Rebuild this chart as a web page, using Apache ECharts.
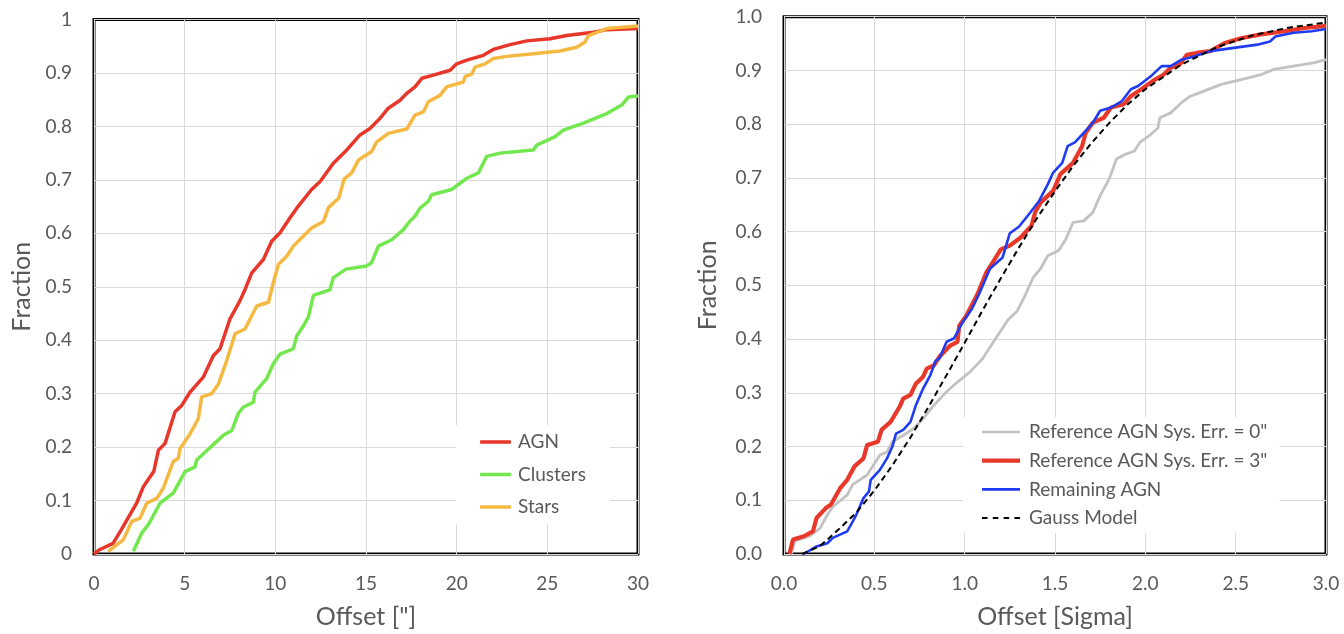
<!DOCTYPE html>
<html>
<head>
<meta charset="utf-8">
<script src="https://cdn.jsdelivr.net/npm/echarts@6/dist/echarts.min.js"></script>
<style>
  html, body { margin: 0; padding: 0; background: #fff; }
  #chart { width: 1344px; height: 634px; }
</style>
</head>
<body>
<div id="chart"></div>
<script>
// Cumulative offset distributions, [offset, fraction] pairs.
const agn = [[0,0],[0.3,0.008],[1.05,0.02],[1.5,0.045],[2.35,0.095],[2.72,0.126],[3.3,0.155],[3.55,0.194],[3.92,0.207],[4.47,0.266],[4.84,0.278],[5.3,0.303],[6.03,0.331],[6.58,0.371],[6.95,0.384],[7.5,0.44],[8.05,0.474],[8.33,0.495],[8.7,0.526],[9.34,0.551],[9.8,0.585],[10.26,0.601],[10.81,0.629],[11.18,0.647],[12.0,0.682],[12.47,0.697],[13.2,0.731],[13.94,0.756],[14.67,0.784],[15.22,0.796],[15.77,0.815],[16.23,0.834],[16.88,0.849],[17.25,0.862],[17.7,0.874],[18.08,0.89],[18.71,0.896],[19.64,0.905],[20.0,0.917],[20.56,0.924],[21.47,0.933],[22.02,0.944],[22.95,0.953],[23.87,0.96],[25.15,0.964],[26.07,0.97],[27.54,0.976],[28.28,0.981],[30,0.983]];
const clusters = [[2.17,0.005],[2.63,0.039],[3.0,0.055],[3.64,0.095],[4.37,0.114],[5.02,0.154],[5.57,0.163],[5.66,0.176],[7.13,0.222],[7.6,0.231],[7.96,0.263],[8.24,0.275],[8.79,0.284],[8.88,0.303],[9.52,0.328],[9.89,0.356],[10.26,0.374],[10.99,0.384],[11.18,0.408],[11.55,0.427],[11.82,0.443],[12.1,0.484],[13.0,0.494],[13.2,0.517],[13.9,0.533],[15.04,0.539],[15.31,0.545],[15.68,0.576],[16.42,0.588],[17.06,0.607],[17.43,0.623],[17.7,0.632],[17.98,0.647],[18.44,0.66],[18.62,0.672],[19.73,0.682],[20.56,0.703],[21.2,0.713],[21.66,0.744],[22.39,0.75],[24.23,0.756],[24.42,0.765],[25.43,0.781],[25.88,0.793],[26.99,0.806],[28.28,0.824],[29.1,0.84],[29.47,0.855],[30,0.857]];
const stars = [[0.79,0.005],[1.62,0.027],[2.08,0.061],[2.54,0.067],[2.9,0.095],[3.46,0.104],[3.82,0.123],[4.37,0.173],[4.65,0.179],[4.74,0.197],[5.3,0.225],[5.75,0.253],[5.94,0.294],[6.49,0.3],[6.86,0.318],[7.32,0.362],[7.78,0.412],[8.33,0.421],[8.97,0.464],[9.62,0.471],[9.89,0.508],[10.17,0.542],[10.63,0.557],[10.99,0.576],[11.55,0.595],[12.0,0.61],[12.65,0.622],[12.93,0.648],[13.5,0.666],[13.8,0.702],[14.21,0.713],[14.58,0.737],[15.31,0.753],[15.59,0.771],[16.23,0.787],[17.25,0.795],[17.7,0.821],[18.16,0.827],[18.44,0.846],[19.08,0.858],[19.45,0.874],[20.37,0.883],[20.46,0.893],[20.83,0.898],[21.02,0.911],[21.57,0.917],[22.02,0.927],[22.76,0.931],[24.23,0.936],[25.7,0.941],[26.62,0.948],[27.08,0.958],[27.27,0.97],[27.73,0.976],[28.28,0.983],[30,0.988]];

// Offsets in units of sigma.
const refSys0 = [[0.04,0],[0.06,0.024],[0.14,0.033],[0.2,0.048],[0.24,0.073],[0.27,0.088],[0.35,0.11],[0.38,0.129],[0.46,0.147],[0.49,0.163],[0.53,0.184],[0.57,0.19],[0.6,0.209],[0.66,0.221],[0.72,0.234],[0.77,0.252],[0.83,0.277],[0.9,0.302],[0.96,0.32],[1.03,0.339],[1.1,0.364],[1.16,0.395],[1.24,0.436],[1.29,0.452],[1.33,0.478],[1.38,0.515],[1.42,0.531],[1.45,0.549],[1.46,0.555],[1.52,0.565],[1.56,0.586],[1.6,0.617],[1.66,0.62],[1.71,0.636],[1.75,0.667],[1.8,0.698],[1.84,0.735],[1.89,0.744],[1.94,0.75],[1.97,0.766],[2.02,0.778],[2.07,0.793],[2.08,0.812],[2.14,0.821],[2.2,0.84],[2.25,0.852],[2.32,0.861],[2.42,0.874],[2.53,0.883],[2.64,0.892],[2.71,0.902],[2.82,0.908],[2.93,0.914],[3.0,0.92]];
const refSys3 = [[0.03,0],[0.05,0.027],[0.11,0.033],[0.16,0.042],[0.18,0.067],[0.23,0.085],[0.26,0.092],[0.31,0.122],[0.35,0.138],[0.39,0.163],[0.44,0.178],[0.46,0.203],[0.52,0.209],[0.54,0.231],[0.59,0.246],[0.64,0.274],[0.66,0.289],[0.7,0.296],[0.73,0.317],[0.77,0.33],[0.79,0.345],[0.83,0.351],[0.86,0.367],[0.92,0.388],[0.96,0.395],[0.97,0.425],[1.01,0.444],[1.07,0.483],[1.12,0.524],[1.16,0.545],[1.2,0.567],[1.25,0.574],[1.31,0.589],[1.37,0.611],[1.39,0.636],[1.42,0.654],[1.49,0.676],[1.53,0.707],[1.6,0.728],[1.65,0.759],[1.67,0.784],[1.71,0.803],[1.77,0.812],[1.81,0.831],[1.88,0.837],[1.92,0.852],[1.99,0.868],[2.04,0.88],[2.1,0.892],[2.14,0.905],[2.19,0.911],[2.23,0.929],[2.29,0.933],[2.36,0.936],[2.44,0.951],[2.53,0.96],[2.64,0.967],[2.77,0.973],[2.88,0.979],[3.0,0.983]];
const remaining = [[0.11,0],[0.18,0.014],[0.24,0.02],[0.27,0.03],[0.35,0.042],[0.37,0.054],[0.4,0.073],[0.44,0.104],[0.47,0.116],[0.48,0.138],[0.53,0.156],[0.57,0.178],[0.6,0.2],[0.62,0.224],[0.66,0.231],[0.7,0.246],[0.73,0.277],[0.77,0.308],[0.81,0.333],[0.84,0.36],[0.86,0.364],[0.9,0.395],[0.94,0.401],[0.99,0.432],[1.04,0.456],[1.08,0.484],[1.14,0.531],[1.21,0.552],[1.25,0.597],[1.3,0.609],[1.35,0.63],[1.41,0.656],[1.46,0.688],[1.49,0.71],[1.54,0.728],[1.57,0.759],[1.61,0.766],[1.66,0.784],[1.71,0.803],[1.75,0.825],[1.81,0.831],[1.87,0.843],[1.92,0.865],[1.96,0.871],[2.03,0.889],[2.09,0.908],[2.14,0.908],[2.2,0.92],[2.27,0.926],[2.36,0.936],[2.49,0.942],[2.62,0.948],[2.69,0.954],[2.72,0.963],[2.82,0.97],[2.92,0.973],[3.0,0.977]];
const gaussModel = [[0.1,0],[0.2,0.015],[0.3,0.045],[0.4,0.077],[0.5,0.118],[0.6,0.165],[0.7,0.217],[0.8,0.274],[0.9,0.333],[1.0,0.393],[1.1,0.454],[1.2,0.513],[1.3,0.57],[1.4,0.625],[1.5,0.675],[1.6,0.722],[1.7,0.764],[1.8,0.802],[1.9,0.836],[2.0,0.865],[2.2,0.911],[2.4,0.944],[2.6,0.966],[2.8,0.98],[3.0,0.989]];

const FONT = 'Lato';
const TXT = '#595959';

// Legend swatches: filled strips inside a 38 x 4.2 box (tiny corner
// points pin the box so thinner strips keep their own thickness).
const PIN = 'M0,0h0.01v0.01h-0.01z M37.99,4.19h0.01v0.01h-0.01z ';
const ICON_THIN = 'path://' + PIN + 'M0,0.75h38v2.7h-38z';
const ICON_THICK = 'path://M0,0h38v4.2h-38z';
const ICON_DASH = 'path://' + PIN + 'M0,1.1h5.5v2h-5.5z M10.8,1.1h5.5v2h-5.5z M21.6,1.1h5.5v2h-5.5z M32.4,1.1h5.5v2h-5.5z';

const chart = echarts.init(document.getElementById('chart'), null, { renderer: 'canvas' });

function xAxisFor(idx, max, interval, name, fmt) {
  return {
    gridIndex: idx, type: 'value', min: 0, max: max, interval: interval,
    name: name, nameLocation: 'middle', nameGap: 50,
    nameTextStyle: { fontFamily: FONT, fontSize: 25, color: TXT },
    axisLine: { show: false }, axisTick: { show: false },
    axisLabel: { margin: 20, fontFamily: FONT, fontSize: 19, color: TXT, formatter: fmt, showMaxLabel: true },
    splitLine: { show: true, lineStyle: { color: '#d9d9d9', width: 1 } }
  };
}
function yAxisFor(idx, fmt, gap) {
  return {
    gridIndex: idx, type: 'value', min: 0, max: 1, interval: 0.1,
    name: 'Fraction', nameLocation: 'middle', nameGap: gap, nameRotate: 90,
    nameTextStyle: { fontFamily: FONT, fontSize: 25, color: TXT },
    axisLine: { show: false }, axisTick: { show: false },
    axisLabel: { margin: 22, fontFamily: FONT, fontSize: 19, color: TXT, formatter: fmt },
    splitLine: { show: true, lineStyle: { color: '#d9d9d9', width: 1 } }
  };
}
function line(name, data, xi, color, width, extra) {
  return Object.assign({
    name: name, type: 'line', data: data, xAxisIndex: xi, yAxisIndex: xi,
    showSymbol: false, symbol: 'none', smooth: false, animation: false,
    lineStyle: { color: color, width: width }, itemStyle: { color: color }
  }, extra || {});
}

const option = {
  backgroundColor: '#fff',
  animation: false,
  grid: [
    { left: 94, top: 19.5, width: 544, height: 536, show: true, borderColor: '#000', borderWidth: 3, backgroundColor: 'transparent' },
    { left: 784, top: 16.7, width: 542, height: 538.6, show: true, borderColor: '#000', borderWidth: 3, backgroundColor: 'transparent' }
  ],
  xAxis: [
    xAxisFor(0, 30, 5, 'Offset ["]', v => String(v)),
    xAxisFor(1, 3, 0.5, 'Offset [Sigma]', v => v.toFixed(1))
  ],
  yAxis: [
    yAxisFor(0, v => String(Math.round(v * 10) / 10), 60),
    yAxisFor(1, v => v.toFixed(1), 64)
  ],
  legend: [
    {
      data: ['AGN', 'Clusters', 'Stars'],
      orient: 'vertical', left: 456, top: 425,
      padding: [7, 24, 7, 24], backgroundColor: '#fff',
      icon: 'roundRect', itemWidth: 31, itemHeight: 3.4, itemGap: 12.5,
      itemStyle: { borderWidth: 0 },
      textStyle: { fontFamily: FONT, fontSize: 19, color: TXT, lineHeight: 20, padding: [0, 0, 0, 2] }
    },
    {
      data: [
        { name: 'Reference AGN Sys. Err. = 0"', icon: ICON_THIN },
        { name: 'Reference AGN Sys. Err. = 3"', icon: ICON_THICK },
        { name: 'Remaining AGN', icon: ICON_THIN },
        { name: 'Gauss Model', icon: ICON_DASH }
      ],
      orient: 'vertical', left: 963, top: 417,
      padding: [5, 12, 5, 19], backgroundColor: '#fff',
      itemWidth: 38, itemHeight: 4.2, itemGap: 8.7, symbolKeepAspect: false,
      itemStyle: { borderWidth: 0 },
      textStyle: { fontFamily: FONT, fontSize: 19, color: TXT, lineHeight: 20, padding: [0, 0, 0, 4] }
    }
  ],
  series: [
    line('AGN', agn, 0, '#e8362b', 3.5),
    line('Clusters', clusters, 0, '#72e84e', 3.5),
    line('Stars', stars, 0, '#f5b942', 3.5),
    line('Reference AGN Sys. Err. = 0"', refSys0, 1, '#c2c2c2', 2.8),
    line('Reference AGN Sys. Err. = 3"', refSys3, 1, '#e8382a', 4.2),
    line('Remaining AGN', remaining, 1, '#1f3cf2', 2.6),
    line('Gauss Model', gaussModel, 1, '#000', 2, { lineStyle: { color: '#000', width: 2, type: [6, 4] } })
  ]
};
chart.setOption(option);
</script>
</body>
</html>
